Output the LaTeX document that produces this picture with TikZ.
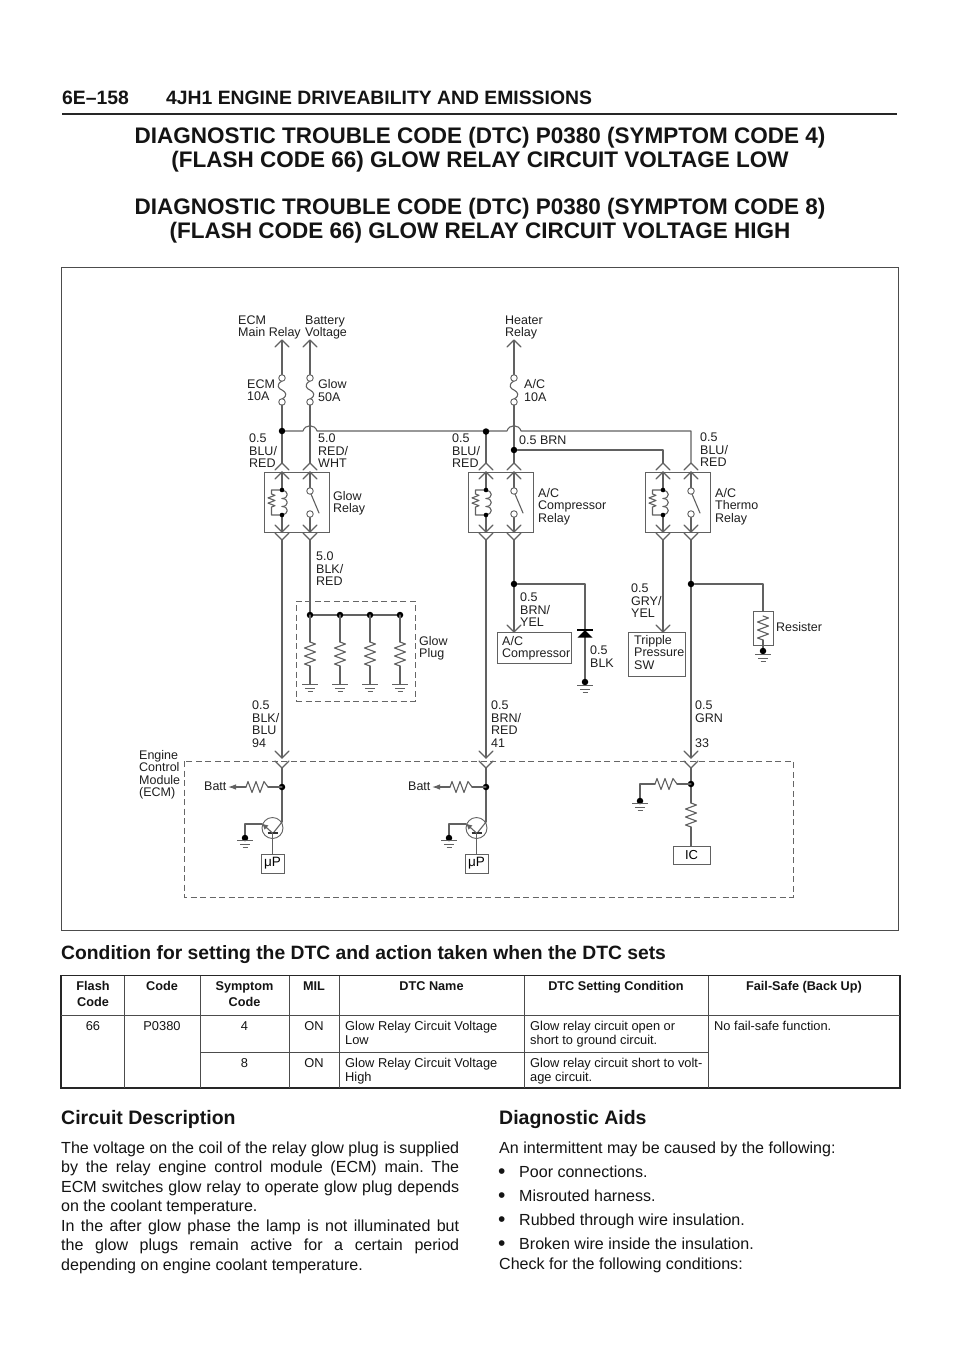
\documentclass[tikz,border=0pt]{standalone}
\usepackage{fontspec}
\setmainfont{Liberation Sans}
\usetikzlibrary{arrows.meta}
\frenchspacing
\tikzset{
  wire/.style={draw=black!62,line width=1.1pt,line cap=round,line join=round},
  thin wire/.style={draw=black!62,line width=0.9pt},
  dashbox/.style={draw=black!60,line width=1pt,dash pattern=on 6pt off 3.5pt},
  boxed/.style={draw=black!62,line width=1pt,inner sep=0pt},
  lbl/.style={anchor=north west,inner sep=0pt,align=left,font=\fontsize{12.5}{12.4}\selectfont,text=black!88},
  tbl/.style={inner sep=0pt,align=center,font=\fontsize{12.85}{14.2}\selectfont,text=black!92},
  tbll/.style={anchor=north west,inner sep=0pt,align=left,font=\fontsize{12.85}{14.2}\selectfont,text=black!92},
  tblh/.style={inner sep=0pt,align=center,font=\bfseries\fontsize{12.7}{15.5}\selectfont,text=black!92},
  body/.style={anchor=base west,inner sep=0pt,font=\fontsize{16.05}{16}\selectfont,text=black!92},
  bull/.style={anchor=base west,inner sep=0pt,font=\fontsize{21}{21}\selectfont,text=black!92},
  ttl/.style={anchor=base,inner sep=0pt,font=\bfseries\fontsize{22.5}{22}\selectfont,text=black!92},
  sect/.style={anchor=base west,inner sep=0pt,font=\bfseries\fontsize{19.5}{19.5}\selectfont,text=black!92},
  hdr/.style={anchor=base west,inner sep=0pt,font=\bfseries\fontsize{19.35}{19.35}\selectfont,text=black!92},
  jdot/.style={circle,fill=black,inner sep=0pt,minimum size=6.5pt},
  sdot/.style={circle,fill=black,inner sep=0pt,minimum size=4.6pt},
  term/.style={circle,draw=black!62,fill=white,line width=0.9pt,inner sep=0pt,minimum size=6.5pt},
}
% chevrons
\newcommand{\chup}[2]{\draw[wire] (#1-7,#2+7) -- (#1,#2) -- (#1+7,#2+7);}
\newcommand{\chdn}[2]{\draw[wire] (#1-7,#2-7) -- (#1,#2) -- (#1+7,#2-7);}
% ground: x, y of first line
\newcommand{\gnd}[2]{%
  \draw[thin wire] (#1-8,#2) -- (#1+8,#2) (#1-5,#2+4) -- (#1+5,#2+4) (#1-2.5,#2+7.5) -- (#1+2.5,#2+7.5);}
% vertical resistor, 24 long
\newcommand{\resv}[2]{\draw[wire] (#1,#2) -- ++(5.5,2) -- ++(-11,4) -- ++(11,4) -- ++(-11,4) -- ++(11,4) -- ++(-11,4) -- ++(5.5,2);}
% horizontal resistor, 22 long
\newcommand{\resh}[2]{\draw[wire] (#1,#2) -- ++(2,-5.5) -- ++(4,11) -- ++(4,-11) -- ++(4,11) -- ++(4,-11) -- ++(4,5.5);}
% fuse: x
\newcommand{\fuse}[1]{%
  \draw[wire] (#1,341) -- (#1,375);
  \draw[wire] (#1,381) .. controls (#1-7,385) and (#1-3,389) .. (#1,390) .. controls (#1+4,392) and (#1+6,396) .. (#1,399);
  \node[term] at (#1,378) {};
  \node[term] at (#1,402) {};
  \chup{#1}{340}}
% relay: name, x of first wire
\newcommand{\relay}[2]{%
  \node[boxed,minimum width=65pt,minimum height=60pt] (#1) at (#2+14.5,502) {};
  \foreach \wx in {#2,#2+28}{
    \chup{\wx}{463}\chup{\wx}{472}\chdn{\wx}{532}\chdn{\wx}{540}}
  \draw[wire] (#2,472) -- (#2,490) (#2,515) -- (#2,532);
  \draw[wire] (#2+28,472) -- (#2+28,488) (#2+28,517) -- (#2+28,532);
  \draw[wire] (#2,490) -- (#2-10.5,490) -- (#2-10.5,494) -- ++(3.5,1.3) -- ++(-7,2.6) -- ++(7,2.6) -- ++(-7,2.6) -- ++(7,2.6) -- ++(-3.5,1.3) -- (#2-10.5,515) -- (#2,515);
  \foreach \yy in {490.5,498.5,506.5}{
    \draw[wire] (#2,\yy) .. controls (#2+7,\yy) and (#2+7,\yy+8) .. (#2,\yy+8);}
  \node[sdot] at (#2,490) {};
  \node[sdot] at (#2,515) {};
  \node[term] at (#2+28,491) {};
  \node[term] at (#2+28,514) {};
  \draw[wire] (#2+29,494) -- (#2+37,513);}
% transistor unit: x of wire
\newcommand{\ecmunit}[2]{%
  \draw[wire] (#1,768) -- (#1,822);
  \node[draw=black!62,line width=0.9pt,circle,inner sep=0pt,minimum size=21pt] (#2tr) at (#1-9.5,828) {};
  \draw[wire] (#1,822) -- (#1-8,832);
  \draw[line width=1.8pt,draw=black!80] (#1-14.5,833) -- (#1-4,833);
  \draw[wire] (#1-9.5,833) -- (#1-9.5,854);
  \draw[wire,-{Latex[length=6pt,width=6pt]}] (#1-9.5,833) -- (#1-20,823.5);
  \draw[wire] (#1-20,824) -- (#1-37,824) -- (#1-37,838);
  \node[jdot] at (#1-37,838) {};
  \gnd{#1-37}{840}
  \node[boxed,minimum width=23pt,minimum height=19pt,font=\fontsize{13.5}{13.5}\selectfont] (#2mp) at (#1-9.5,863.5) {μP};
  \node[jdot] at (#1,787) {};
  \draw[wire] (#1,787) -- (#1-14,787);
  \resh{#1-36}{787}
  \draw[wire] (#1-36,787) -- (#1-45,787);
  \draw[wire,-{Latex[length=8pt,width=5.5pt]}] (#1-45,787) -- (#1-54,787);
  \node[lbl] (#2batt) at (#1-78,781.5) {Batt};
}
\begin{document}
\begin{tikzpicture}[x=1pt,y=-1pt]
\useasboundingbox (0,0) rectangle (960,1358);
\fill[white] (0,0) rectangle (960,1358);
% header
\node[hdr] (pg) at (62,104) {6E–158};
\node[hdr] (hd) at (166,104) {4JH1 ENGINE DRIVEABILITY AND EMISSIONS};
\draw[line width=2pt,draw=black!85] (62,114) -- (897,114);
\node[ttl] (t1) at (480,143) {DIAGNOSTIC TROUBLE CODE (DTC) P0380 (SYMPTOM CODE 4)};
\node[ttl] (t2) at (480,167) {(FLASH CODE 66) GLOW RELAY CIRCUIT VOLTAGE LOW};
\node[ttl] (t3) at (480,214) {DIAGNOSTIC TROUBLE CODE (DTC) P0380 (SYMPTOM CODE 8)};
\node[ttl] (t4) at (480,238) {(FLASH CODE 66) GLOW RELAY CIRCUIT VOLTAGE HIGH};
% frame
\draw[line width=1pt,draw=black!70] (61,267) rectangle (898,930);
% fuses and top wires
\fuse{282}\fuse{310}\fuse{514}
\draw[wire] (282,405) -- (282,463);
\draw[wire] (310,405) -- (310,463);
\draw[wire] (514,405) -- (514,463);
\draw[wire] (486,431) -- (486,463);
\draw[wire] (691,463) -- (691,431) -- (521,431) .. controls (519,424) and (509,424) .. (507,431) -- (486,431) -- (317,431) .. controls (315,424) and (305,424) .. (303,431) -- (282,431);
\node[jdot] (j1) at (282,431) {};
\node[jdot] (j2) at (486,431.5) {};
\node[jdot] (j3) at (514,450) {};
\draw[wire] (j3) -- (663,450) -- (663,463);
% relays
\relay{rl1}{282}\relay{rl2}{486}\relay{rl3}{663}
% lower wires
\draw[wire] (282,540) -- (282,758);\chdn{282}{758}
\draw[wire] (486,540) -- (486,758);\chdn{486}{758}
\draw[wire] (691,540) -- (691,758);\chdn{691}{758}
\draw[wire] (310,540) -- (310,615);
\draw[wire] (514,540) -- (514,632);\chdn{514}{632}
\draw[wire] (663,540) -- (663,632);\chdn{663}{632}
\foreach \wx in {282,486,691}{\chdn{\wx}{768}}
% compressor / diode
\node[jdot] (j4) at (514,584) {};
\draw[wire] (j4) -- (585,584) -- (585,682);
\fill[black] (585,630) -- (592.5,637.5) -- (577.5,637.5) -- cycle;
\draw[line width=1.2pt,draw=black] (577,630) -- (593,630);
\node[jdot] (j5) at (585,682) {};
\gnd{585}{685}
\node[boxed,minimum width=74pt,minimum height=31pt] (acc) at (534,647.5) {};
\node[boxed,minimum width=57pt,minimum height=44pt] (tps) at (656.5,654) {};
% resister
\node[jdot] (j6) at (691,584) {};
\draw[wire] (j6) -- (763,584) -- (763,611);
\node[boxed,minimum width=20pt,minimum height=34pt] (rs) at (763,628) {};
\resv{763}{616}
\draw[wire] (763,640) -- (763,651);
\node[jdot] (j7) at (763,651) {};
\gnd{763}{654}
% glow plug
\node[dashbox,minimum width=119pt,minimum height=100pt,inner sep=0pt] (gp) at (355.5,651) {};
\draw[wire] (310,615) -- (400,615);
\foreach \px/\pn in {310/a,340/b,370/c,400/d}{
  \node[jdot] (g\pn) at (\px,615) {};
  \draw[wire] (\px,615) -- (\px,642);
  \resv{\px}{642}
  \draw[wire] (\px,666) -- (\px,684);
  \gnd{\px}{684}
}
% ECM
\draw[dashbox] (184,761) rectangle (793,897);
\ecmunit{282}{a}
\ecmunit{486}{b}
% IC branch
\draw[wire] (691,768) -- (691,803);
\node[jdot] (j8) at (691,784) {};
\draw[wire] (691,784) -- (677,784);
\resh{655}{784}
\draw[wire] (655,784) -- (640,784) -- (640,801);
\node[jdot] (j9) at (640,801) {};
\gnd{640}{803}
\resv{691}{803}
\draw[wire] (691,827) -- (691,846);
\node[boxed,minimum width=37pt,minimum height=18pt,font=\fontsize{13}{13}\selectfont] (ic) at (691.5,855) {IC};
% labels
\node[lbl] (l1) at (238,315.5) {ECM\\Main Relay};
\node[lbl] (l2) at (305,315.5) {Battery\\Voltage};
\node[lbl] (l3) at (505,315.5) {Heater\\Relay};
\node[lbl] (l4) at (247,379.5) {ECM\\10A};
\node[lbl] (l5) at (318,379.5) {Glow\\50A};
\node[lbl] (l6) at (524,379.5) {A/C\\10A};
\node[lbl] (l7) at (249,434) {0.5\\BLU/\\RED};
\node[lbl] (l8) at (318,434) {5.0\\RED/\\WHT};
\node[lbl] (l9) at (452,434) {0.5\\BLU/\\RED};
\node[lbl] (l10) at (519,436) {0.5 BRN};
\node[lbl] (l11) at (700,433) {0.5\\BLU/\\RED};
\node[lbl] (l12) at (333,491) {Glow\\Relay};
\node[lbl] (l13) at (538,488) {A/C\\Compressor\\Relay};
\node[lbl] (l14) at (715,488) {A/C\\Thermo\\Relay};
\node[lbl] (l15) at (316,552) {5.0\\BLK/\\RED};
\node[lbl] (l16) at (520,593) {0.5\\BRN/\\YEL};
\node[lbl] (l17) at (631,584) {0.5\\GRY/\\YEL};
\node[lbl] (l18) at (590,646) {0.5\\BLK};
\node[lbl] (l19) at (419,636) {Glow\\Plug};
\node[lbl] (l20) at (252,701) {0.5\\BLK/\\BLU\\94};
\node[lbl] (l21) at (491,701) {0.5\\BRN/\\RED\\41};
\node[lbl] (l22) at (695,701) {0.5\\GRN};
\node[lbl] (l23) at (695,738.5) {33};
\node[lbl] (l24) at (139,750) {Engine\\Control\\Module\\(ECM)};
\node[lbl] (l25) at (776,622) {Resister};
\node[lbl] (l26) at (502,636) {A/C\\Compressor};
\node[lbl] (l27) at (634,635) {Tripple\\Pressure\\SW};
% condition
\node[anchor=base west,inner sep=0pt,font=\bfseries\fontsize{19.3}{19.3}\selectfont,text=black!92] (cond) at (61,959) {Condition for setting the DTC and action taken when the DTC sets};
% table
\draw[line width=1.6pt,draw=black!85] (61,975.5) rectangle (900,1088);
\draw[line width=1pt,draw=black!70] (61,1015) -- (900,1015);
\draw[line width=1pt,draw=black!70] (200,1052) -- (708,1052);
\foreach \cx in {124,200,289,339,524,708}{\draw[line width=1pt,draw=black!70] (\cx,975.5) -- (\cx,1088);}
\node[tblh,anchor=north] (h1) at (93,981.5) {Flash\\Code};
\node[tblh,anchor=north] (h2) at (162,981.5) {Code};
\node[tblh,anchor=north] (h3) at (244.5,981.5) {Symptom\\Code};
\node[tblh,anchor=north] (h4) at (314,981.5) {MIL};
\node[tblh,anchor=north] (h5) at (431.5,981.5) {DTC Name};
\node[tblh,anchor=north] (h6) at (616,981.5) {DTC Setting Condition};
\node[tblh,anchor=north] (h7) at (804,981.5) {Fail-Safe (Back Up)};
\node[tbl,anchor=north] (c1) at (93,1021) {66};
\node[tbl,anchor=north] (c2) at (162,1021) {P0380};
\node[tbl,anchor=north] (c3) at (244.5,1021) {4};
\node[tbl,anchor=north] (c4) at (314,1021) {ON};
\node[tbll] (c5) at (345,1021) {Glow Relay Circuit Voltage\\Low};
\node[tbll] (c6) at (530,1021) {Glow relay circuit open or\\short to ground circuit.};
\node[tbll] (c7) at (714,1021) {No fail-safe function.};
\node[tbl,anchor=north] (d3) at (244.5,1058) {8};
\node[tbl,anchor=north] (d4) at (314,1058) {ON};
\node[tbll] (d5) at (345,1058) {Glow Relay Circuit Voltage\\High};
\node[tbll] (d6) at (530,1058) {Glow relay circuit short to volt-\\age circuit.};
% text
\node[sect] (s1) at (61,1124) {Circuit Description};
\node[sect] (s2) at (499,1124) {Diagnostic Aids};
\node[body] (b1) at (61,1153) {\makebox[398pt][s]{The voltage on the coil of the relay glow plug is supplied}};
\node[body] (b2) at (61,1172.5) {\makebox[398pt][s]{by the relay engine control module (ECM) main. The}};
\node[body] (b3) at (61,1192) {\makebox[398pt][s]{ECM switches glow relay to operate glow plug depends}};
\node[body] (b4) at (61,1211.5) {on the coolant temperature.};
\node[body] (b5) at (61,1231) {\makebox[398pt][s]{In the after glow phase the lamp is not illuminated but}};
\node[body] (b6) at (61,1250.5) {\makebox[398pt][s]{the glow plugs remain active for a certain period}};
\node[body] (b7) at (61,1270) {depending on engine coolant temperature.};
\node[body] (r1) at (499,1153) {An intermittent may be caused by the following:};
\foreach \yy/\tx in {1177/Poor connections.,1201/Misrouted harness.,1225/Rubbed through wire insulation.,1249/Broken wire inside the insulation.}{
  \node[bull] at (498,\yy+1) {•};
  \node[body] at (519,\yy) {\tx};
}
\node[body] (r6) at (499,1269) {Check for the following conditions:};
\end{tikzpicture}
\end{document}
